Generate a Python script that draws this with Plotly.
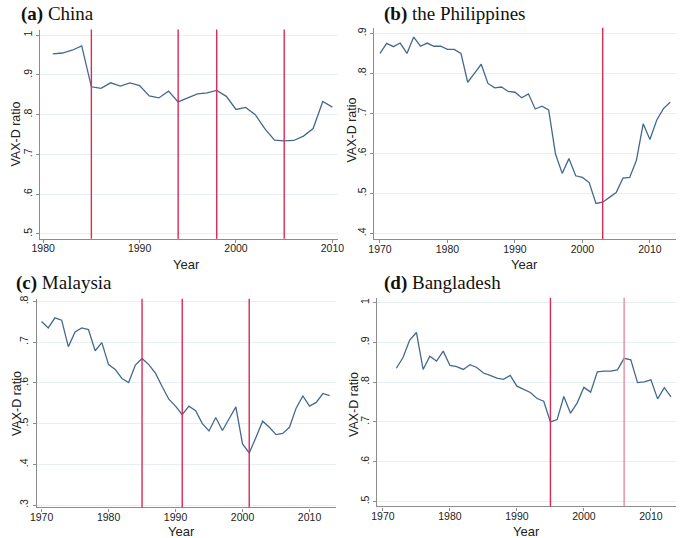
import plotly.graph_objects as go

W, H = 685, 538

# ---------------- data ----------------
china_years = list(range(1981, 2011))
china_vals = [0.953, 0.955, 0.962, 0.973, 0.870, 0.866, 0.880, 0.872, 0.880, 0.873,
              0.847, 0.842, 0.859, 0.832, 0.842, 0.852, 0.855, 0.861, 0.846, 0.813,
              0.818, 0.800, 0.764, 0.736, 0.734, 0.735, 0.746, 0.765, 0.833, 0.819]
china_breaks = [1985, 1994, 1998, 2005]

phil_years = list(range(1970, 2014))
phil_vals = [0.850, 0.875, 0.867, 0.876, 0.850, 0.891, 0.868, 0.876, 0.868, 0.868,
             0.860, 0.860, 0.850, 0.778, 0.800, 0.823, 0.775, 0.764, 0.766, 0.755,
             0.753, 0.739, 0.749, 0.711, 0.718, 0.709, 0.599, 0.550, 0.587, 0.544,
             0.540, 0.527, 0.475, 0.478, 0.490, 0.502, 0.538, 0.540, 0.583, 0.674,
             0.635, 0.683, 0.712, 0.728]
phil_breaks = [2003]

malay_years = list(range(1970, 2014))
malay_vals = [0.751, 0.735, 0.760, 0.754, 0.689, 0.725, 0.735, 0.731, 0.679, 0.699,
              0.645, 0.633, 0.611, 0.601, 0.644, 0.660, 0.645, 0.624, 0.591, 0.560,
              0.543, 0.522, 0.543, 0.532, 0.500, 0.482, 0.515, 0.483, 0.512, 0.541,
              0.450, 0.428, 0.466, 0.506, 0.491, 0.473, 0.476, 0.491, 0.538, 0.568,
              0.543, 0.552, 0.574, 0.569]
malay_breaks = [1985, 1991, 2001]

bang_years = list(range(1972, 2014))
bang_vals = [0.835, 0.862, 0.906, 0.925, 0.832, 0.865, 0.853, 0.878, 0.842, 0.839,
             0.832, 0.844, 0.837, 0.823, 0.817, 0.810, 0.807, 0.817, 0.790, 0.783,
             0.774, 0.759, 0.752, 0.700, 0.706, 0.764, 0.722, 0.748, 0.787, 0.775,
             0.826, 0.828, 0.828, 0.831, 0.860, 0.856, 0.799, 0.801, 0.806, 0.758,
             0.786, 0.763]
bang_breaks = [1995, 2006]

china_yticks = [0.5, 0.6, 0.7, 0.8, 0.9, 1.0]
china_ylabels = [".5", ".6", ".7", ".8", ".9", "1"]
phil_yticks = [0.4, 0.5, 0.6, 0.7, 0.8, 0.9]
phil_ylabels = [".4", ".5", ".6", ".7", ".8", ".9"]
malay_yticks = [0.3, 0.4, 0.5, 0.6, 0.7, 0.8]
malay_ylabels = [".3", ".4", ".5", ".6", ".7", ".8"]
bang_yticks = [0.5, 0.6, 0.7, 0.8, 0.9, 1.0]
bang_ylabels = [".5", ".6", ".7", ".8", ".9", "1"]

china_xticks = [1980, 1990, 2000, 2010]
other_xticks = [1970, 1980, 1990, 2000, 2010]

panel_letters = ["(a)", "(b)", "(c)", "(d)"]
panel_names = ["China", "the Philippines", "Malaysia", "Bangladesh"]

# ---------------- style ----------------
LINE = "#44698f"
RED = "#dc2a55"
RED_LIGHT = "#e88aa0"
GRID = "#e6eff1"
AXIS = "#8c8c8c"
SANS = "Liberation Sans, Arial, sans-serif"
SERIF = "Liberation Serif, Times New Roman, serif"

# panel geometry in pixels: (left, right, top, bottom), x range, y range
panels = [
    dict(px=(32.7, 337), py=(26.7, 237), xr=[1979.67, 2010.54], yr=[0.488, 1.014],
         years=china_years, vals=china_vals, breaks=china_breaks,
         yt=china_yticks, yl=china_ylabels, xt=china_xticks,
         title_xy=(11, 11), ylab_xy=(8.5, 132), xlab_xy=(183, 263)),
    dict(px=(374.7, 683), py=(25, 237.3), xr=[1969.19, 2013.87], yr=[0.386, 0.914],
         years=phil_years, vals=phil_vals, breaks=phil_breaks,
         yt=phil_yticks, yl=phil_ylabels, xt=other_xticks,
         title_xy=(382, 11), ylab_xy=(352, 128), xlab_xy=(528, 263)),
    dict(px=(29.3, 335), py=(297.3, 507.3), xr=[1969.27, 2013.9], yr=[0.294, 0.807],
         years=malay_years, vals=malay_vals, breaks=malay_breaks,
         yt=malay_yticks, yl=malay_ylabels, xt=other_xticks,
         title_xy=(6, 282), ylab_xy=(8.5, 403), xlab_xy=(177, 531)),
    dict(px=(377.7, 683), py=(296.3, 506.3), xr=[1969.18, 2013.75], yr=[0.4875, 1.0125],
         years=bang_years, vals=bang_vals, breaks=bang_breaks,
         yt=bang_yticks, yl=bang_ylabels, xt=other_xticks,
         title_xy=(382, 282), ylab_xy=(353, 404), xlab_xy=(530, 531)),
]

fig = go.Figure()
shapes = []
annotations = []

for i, p in enumerate(panels):
    n = "" if i == 0 else str(i + 1)
    xa, ya = "x" + n, "y" + n
    fig.add_trace(go.Scatter(x=p["years"], y=p["vals"], mode="lines",
                             line=dict(color=LINE, width=1.3),
                             xaxis=xa, yaxis=ya, showlegend=False, hoverinfo="x+y"))
    l, r = p["px"]
    t, b = p["py"]
    fig.layout["xaxis" + n] = dict(
        domain=[l / W, r / W], range=p["xr"], anchor=ya,
        tickvals=p["xt"], ticks="outside", ticklen=3, tickcolor=AXIS,
        ticklabelstandoff=-3,
        showline=True, linecolor=AXIS, linewidth=1.2, showgrid=False, zeroline=False,
        tickfont=dict(family=SANS, size=10.5, color="#222"))
    fig.layout["yaxis" + n] = dict(
        domain=[1 - b / H, 1 - t / H], range=p["yr"], anchor=xa,
        tickvals=p["yt"], ticktext=p["yl"], tickangle=-90,
        ticks="outside", ticklen=3, tickcolor=AXIS,
        showline=True, linecolor=AXIS, linewidth=1.2,
        showgrid=True, gridcolor=GRID, gridwidth=1, zeroline=False,
        tickfont=dict(family=SANS, size=10.5, color="#222"))
    for k, yr in enumerate(p["breaks"]):
        col = RED_LIGHT if (i == 3 and k == 1) else RED
        shapes.append(dict(type="line", xref=xa, yref=ya + " domain",
                           x0=yr, x1=yr, y0=0, y1=1,
                           line=dict(color=col, width=1.4), layer="above"))
    tx, ty = p["title_xy"]
    annotations.append(dict(
        text="<b>" + panel_letters[i] + "</b> " + panel_names[i],
        xref="paper", yref="paper", x=tx / W, y=1 - ty / H,
        xanchor="left", yanchor="middle", showarrow=False,
        font=dict(family=SERIF, size=19, color="#111")))
    lx, ly = p["ylab_xy"]
    annotations.append(dict(
        text="VAX-D ratio", xref="paper", yref="paper", x=lx / W, y=1 - ly / H,
        xanchor="center", yanchor="middle", showarrow=False, textangle=-90,
        font=dict(family=SANS, size=12.5, color="#222")))
    yx, yy = p["xlab_xy"]
    annotations.append(dict(
        text="Year", xref="paper", yref="paper", x=yx / W, y=1 - yy / H,
        xanchor="center", yanchor="middle", showarrow=False,
        font=dict(family=SANS, size=13, color="#222")))

fig.update_layout(
    width=W, height=H, margin=dict(l=0, r=0, t=0, b=0),
    paper_bgcolor="white", plot_bgcolor="white",
    shapes=shapes, annotations=annotations, showlegend=False)

fig.write_html(
    "out.html",
    config={"displayModeBar": False},
    post_script="document.body.style.margin='0';document.body.style.padding='0';"
                "document.body.style.overflow='hidden';")
